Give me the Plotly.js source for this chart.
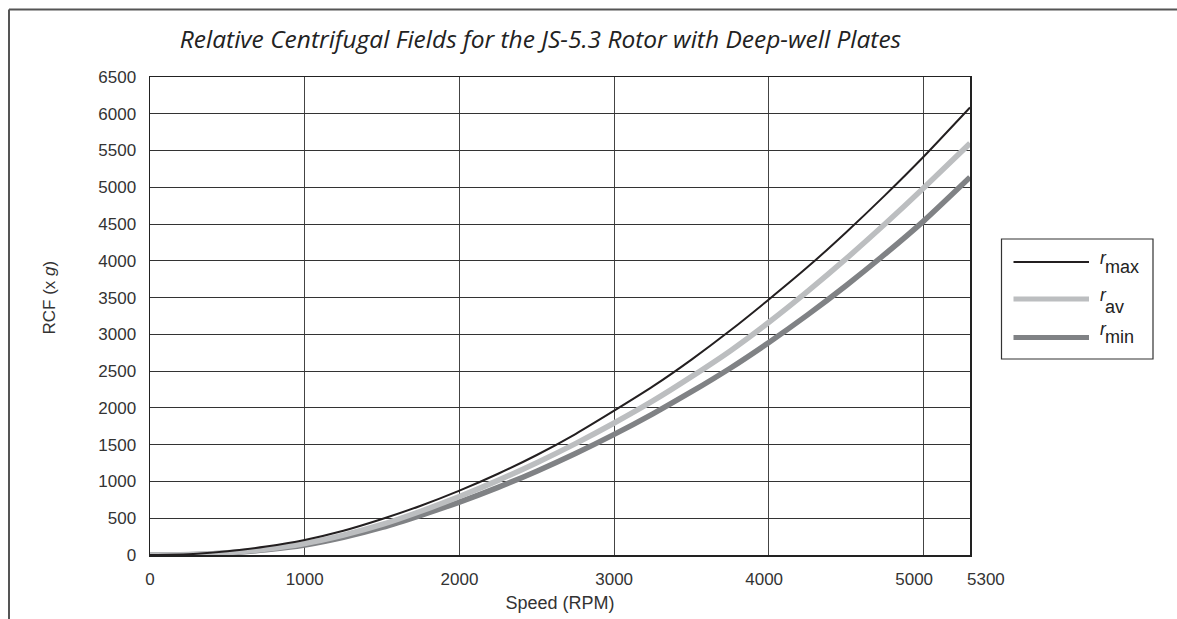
<!DOCTYPE html>
<html>
<head>
<meta charset="utf-8">
<script src="https://cdn.plot.ly/plotly-3.0.1.min.js"></script>
<style>
html,body{margin:0;padding:0;background:#fff;}
#chart{width:1177px;height:619px;}
</style>
</head>
<body>
<div id="chart"></div>
<script>
// Data
var speedRPM = [0, 250, 500, 750, 1000, 1250, 1500, 1750, 2000, 2250, 2500, 2750, 3000, 3250, 3500, 3750, 4000, 4250, 4500, 4750, 5000, 5300];
var rcfMax = [0, 10, 50, 115, 205, 330, 490, 670, 875, 1105, 1360, 1645, 1962, 2292, 2657, 3052, 3475, 3915, 4390, 4890, 5415, 6085];
var rcfAv  = [0, 6, 32, 80, 155, 270, 415, 595, 795, 1015, 1255, 1515, 1795, 2095, 2425, 2775, 3165, 3585, 4030, 4500, 4990, 5598];
var rcfMin = [0, 5, 28, 70, 135, 240, 375, 540, 720, 920, 1140, 1380, 1640, 1920, 2220, 2540, 2890, 3265, 3665, 4090, 4540, 5136];
var xTickVals = [0, 1000, 2000, 3000, 4000, 5000];
var xTickText = ['0', '1000', '2000', '3000', '4000\u00a0\u00a0', '5000\u00a0\u00a0\u00a0\u00a0'];
var xMaxLabel = '5300';
var seriesNames = ['r max', 'r av', 'r min'];
var legendSubs = ['max', 'av', 'min'];
var seriesColors = ['#231f20', '#bcbec0', '#808285'];
var seriesWidths = [2, 5.5, 5.5];

var W = 1177, H = 619;
var L = 150, R = 970, T = 77, B = 555;
function px(x){ return (x - L) / (R - L); }
function py(y){ return (B - y) / (B - T); }

var ys = [rcfMax, rcfAv, rcfMin];
var traces = ys.map(function(v, i){
  return {
    x: speedRPM, y: v, type: 'scatter', mode: 'lines', name: seriesNames[i],
    line: {color: seriesColors[i], width: seriesWidths[i], shape: 'spline', smoothing: 0.6},
    showlegend: false, hoverinfo: 'x+y'
  };
});
// draw r max on top
traces = [traces[2], traces[1], traces[0]];

var shapes = [
  // outer border (top and left)
  {type:'line', xref:'paper', yref:'paper', x0:px(9), x1:px(W + 20), y0:py(9.5), y1:py(9.5), line:{color:'#555', width:2}},
  {type:'line', xref:'paper', yref:'paper', x0:px(9), x1:px(9), y0:py(9.5), y1:py(H + 20), line:{color:'#555', width:2}},
  // legend box
  {type:'rect', xref:'paper', yref:'paper', x0:px(1001.5), x1:px(1153), y0:py(239), y1:py(359), line:{color:'#333', width:1.2}, fillcolor:'rgba(0,0,0,0)'}
];
var legLineY = [262, 299, 337.5];
var legRY = [257.7, 295, 329.3];
var legSubY = [267, 307.3, 337];
var legFont = 'Liberation Sans, Arial, sans-serif';
var annotations = [];
for (var i = 0; i < 3; i++) {
  shapes.push({type:'line', xref:'paper', yref:'paper', x0:px(1013.5), x1:px(1089), y0:py(legLineY[i]), y1:py(legLineY[i]),
    line:{color:seriesColors[i], width:(i===0?2.2:5)}});
  annotations.push({xref:'paper', yref:'paper', x:px(1098), y:py(legRY[i]), xanchor:'left', yanchor:'middle',
    text: '<i>r</i>', showarrow:false, font:{family:legFont, size:17.5, color:'#222'}});
  annotations.push({xref:'paper', yref:'paper', x:px(1103), y:py(legSubY[i]), xanchor:'left', yanchor:'middle',
    text: legendSubs[i], showarrow:false, font:{family:legFont, size:18, color:'#222'}});
}
// y axis title
annotations.push({xref:'paper', yref:'paper', x:px(49), y:py(297.5), xanchor:'center', yanchor:'middle', textangle:-90,
  text:'RCF (x <i>g</i>)', showarrow:false, font:{family:legFont, size:17, color:'#333'}});
// end-of-axis label (drawn just right of the plot edge, as in the reference)
annotations.push({xref:'paper', yref:'paper', x:px(986), y:py(579.5), xanchor:'center', yanchor:'middle',
  text: xMaxLabel, showarrow:false, font:{family:legFont, size:17, color:'#333'}});

var layout = {
  width: W, height: H,
  margin: {l: L, r: W - R, t: T, b: H - B, pad: 0},
  paper_bgcolor: '#fff', plot_bgcolor: '#fff',
  font: {family: 'Liberation Sans, Arial, sans-serif', size: 17, color: '#333'},
  title: {
    text: 'Relative Centrifugal Fields for the JS-5.3 Rotor with Deep-well Plates',
    font: {family: 'Open Sans, sans-serif', size: 24.5, color: '#222', style: 'italic'},
    xref: 'container', yref: 'container', x: 540.5 / W, y: 1 - 39 / H, xanchor: 'center', yanchor: 'middle'
  },
  xaxis: {
    range: [0, 5300], tickvals: xTickVals, ticktext: xTickText, tickangle: 0,
    showgrid: true, gridcolor: '#444', gridwidth: 1,
    showline: true, mirror: true, linecolor: '#222', linewidth: 1.5,
    ticks: '', ticklabelstandoff: 8, zeroline: false,
    tickfont: {size: 17, color: '#333'},
    title: {text: 'Speed (RPM)', font: {size: 18, color: '#333'}, standoff: 8}
  },
  yaxis: {
    range: [0, 6500], dtick: 500, tick0: 0,
    showgrid: true, gridcolor: '#333', gridwidth: 1,
    showline: true, mirror: true, linecolor: '#222', linewidth: 1.5,
    ticks: '', ticklabelstandoff: 9, zeroline: false,
    tickfont: {size: 17, color: '#333'}
  },
  shapes: shapes,
  annotations: annotations,
  showlegend: false
};

Plotly.newPlot('chart', traces, layout, {displayModeBar: false, staticPlot: true});
</script>
</body>
</html>
